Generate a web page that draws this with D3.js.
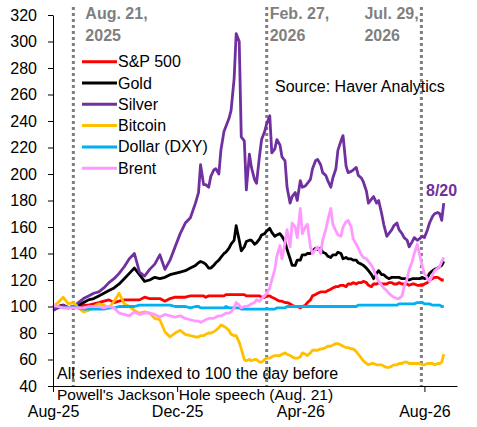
<!DOCTYPE html>
<html>
<head>
<meta charset="utf-8">
<script src="https://cdn.jsdelivr.net/npm/d3@7"></script>
<style>
  body { margin: 0; background: #fff; }
  svg text { font-family: "Liberation Sans", Arial, sans-serif; }
</style>
</head>
<body>
<div class="chart"></div>
<script>
// sample dates: ~5 days apart until mid-Dec, then ~2-3 days apart, last point 8/20
const dates = [
  "2025-08-01","2025-08-06","2025-08-11","2025-08-16","2025-08-21","2025-08-26","2025-08-31",
  "2025-09-05","2025-09-10","2025-09-15","2025-09-20","2025-09-25","2025-09-30","2025-10-05",
  "2025-10-10","2025-10-15","2025-10-20","2025-10-25","2025-10-30","2025-11-04","2025-11-09",
  "2025-11-14","2025-11-19","2025-11-24","2025-11-29","2025-12-04","2025-12-09","2025-12-14",
  "2025-12-19","2025-12-22","2025-12-24","2025-12-27","2025-12-29","2026-01-01","2026-01-03",
  "2026-01-06","2026-01-08","2026-01-11","2026-01-13","2026-01-16","2026-01-18","2026-01-21",
  "2026-01-23","2026-01-26","2026-01-28","2026-01-31","2026-02-02","2026-02-05","2026-02-07",
  "2026-02-10","2026-02-12","2026-02-15","2026-02-17","2026-02-20","2026-02-22","2026-02-25",
  "2026-02-27","2026-03-02","2026-03-04","2026-03-07","2026-03-09","2026-03-12","2026-03-14",
  "2026-03-17","2026-03-19","2026-03-22","2026-03-24","2026-03-27","2026-03-29","2026-04-01",
  "2026-04-03","2026-04-06","2026-04-08","2026-04-11","2026-04-13","2026-04-16","2026-04-18",
  "2026-04-21","2026-04-23","2026-04-26","2026-04-28","2026-05-01","2026-05-03","2026-05-06",
  "2026-05-08","2026-05-11","2026-05-13","2026-05-16","2026-05-18","2026-05-21","2026-05-23",
  "2026-05-26","2026-05-28","2026-05-31","2026-06-02","2026-06-05","2026-06-07","2026-06-10",
  "2026-06-12","2026-06-15","2026-06-17","2026-06-20","2026-06-22","2026-06-25","2026-06-27",
  "2026-06-30","2026-07-02","2026-07-05","2026-07-07","2026-07-10","2026-07-12","2026-07-15",
  "2026-07-17","2026-07-20","2026-07-22","2026-07-25","2026-07-27","2026-07-30","2026-08-01",
  "2026-08-04","2026-08-06","2026-08-09","2026-08-11","2026-08-14","2026-08-16","2026-08-18",
  "2026-08-20"
];

const sp500 = [
  100,100,101,99,100,99,101,101,102,103,104,105,103,104,105,105,105,105,107,106,106,106,104,106,107,107,107,108,
  108,108, 108,108, 107,108, 108,108, 108,108, 108,108, 109,109, 109,109, 109,109, 109,109, 108,108,
  108,108, 108,108, 107,107, 108,108, 107,106, 105,104, 104,103, 103,102, 101,100, 100,99,
  100,101, 103,105, 108,109, 110,111, 111,111, 112,113, 114,115, 115,116, 116,115, 117,117,
  118,117, 118,118, 119,118, 116,115, 117,117, 118,117, 117,117, 118,118, 117,117, 118,117,
  117,117, 116,117, 117,116, 116,116, 117,118, 120,121, 122,122, 121,120,
  120
];
const gold = [
  101,100,101,99,100,101,103,105,106,108,110,112,114,117,121,125,129,124,119,120,122,121,122,124,125,126,127,129,
  131,133, 134,133, 132,129, 129,131, 133,135, 137,140, 141,144, 147,150, 161,150, 142,145,
  149,150, 150,147, 148,151, 154,155, 157,159, 156,153, 154,155, 153,149, 143,136, 131,131,
  135,135, 139,139, 140,140, 142,144, 143,144, 141,140, 138,137, 139,139, 141,140, 136,137,
  136,136, 135,135, 133,132, 131,129, 127,124, 121,125, 127,124, 124,122, 121,122, 122,122,
  122,121, 121,121, 120,121, 121,121, 121,122, 121,122, 125,127, 128,129, 130,131,
  134
];
const silver = [
  97,99,101,99,100,103,106,108,110,111,114,118,121,125,130,136,140,126,123,128,132,139,128,135,145,155,163,167,
  178,186, 207,192, 192,190, 198,203, 204,200, 218,232, 236,242, 248,272, 306,300, 228,225,
  188,215, 205,196, 193,214, 226,232, 238,244, 216,219, 226,222, 213,210, 190,178, 183,186,
  180,195, 190,191, 193,196, 204,210, 211,207, 201,199, 195,190, 197,204, 218,225, 229,206,
  201,202, 203,205, 199,197, 194,187, 178,181, 183,178, 180,170, 162,153, 155,158, 161,163,
  158,155, 152,150, 145,149, 152,150, 151,153, 152,158, 163,168, 170,171, 170,165,
  178
];
const bitcoin = [
  100,103,107,102,103,99,96,97,100,102,101,99,104,110,102,100,97,95,96,95,91,90,81,77,80,82,79,78,
  77,77, 78,78, 79,80, 80,81, 82,84, 86,85, 84,82, 79,78, 78,73, 68,60,
  59,60, 59,60, 60,58, 58,60, 61,61, 62,63, 63,63, 64,65, 64,63, 62,61,
  61,62, 65,64, 63,65, 67,67, 67,68, 68,69, 70,70, 71,72, 72,71, 70,69,
  69,68, 68,66, 64,61, 59,57, 56,57, 57,56, 56,56, 55,54, 54,55, 56,56,
  57,57, 58,58, 57,57, 57,57, 57,56, 56,57, 57,57, 56,57, 57,58,
  64
];
const dollar = [
  100,100,99,99,100,99,98,98,98,98,98,99,99,100,100,100,100,101,101,101,101,101,101,101,100,100,100,99,
  100,100, 99,99, 99,99, 99,99, 99,99, 99,99, 100,99, 99,99, 99,99, 98,98,
  98,98, 98,98, 98,98, 98,98, 98,98, 98,98, 99,99, 99,99, 100,100, 100,100,
  100,100, 100,100, 100,100, 100,100, 100,100, 100,100, 100,100, 100,100, 100,100, 100,100,
  100,100, 100,100, 101,101, 101,101, 101,101, 101,101, 101,101, 101,101, 101,101, 101,101,
  102,102, 102,102, 102,102, 102,103, 103,103, 102,102, 102,101, 101,101, 101,100,
  100
];
const brent = [
  101,100,99,99,99,99,99,100,100,100,99,100,99,95,94,93,96,94,95,95,94,92,94,93,92,93,91,90,
  89,89, 88,89, 90,91, 91,91, 92,93, 93,94, 95,95, 96,99, 103,101, 99,100,
  100,101, 102,103, 105,104, 106,108, 110,114, 120,128, 138,146, 136,148, 158,145, 163,160,
  152,174, 155,160, 162,145, 140,143, 145,140, 150,158, 165,174, 162,157, 154,153, 160,164,
  165,160, 151,147, 144,139, 137,136, 134,131, 128,122, 119,116, 114,112, 110,108, 107,106,
  106,108, 115,121, 128,134, 140,147, 140,130, 125,121, 119,124, 127,129, 130,134,
  137
];

const seriesNames = ["S&P 500", "Gold", "Silver", "Bitcoin", "Dollar (DXY)", "Brent"];
const seriesColours = ["#ff0000", "#000000", "#7030a0", "#ffc000", "#00b0f0", "#ff99ff"];
const yTicks = [40, 60, 80, 100, 120, 140, 160, 180, 200, 220, 240, 260, 280, 300, 320];
const xTicks = ["2025-08-01", "2025-12-01", "2026-04-01", "2026-08-01"];
const eventDates = ["2025-08-21", "2026-02-27", "2026-07-29"];
const eventLabels = [["Aug. 21,", "2025"], ["Feb. 27,", "2026"], ["Jul. 29,", "2026"]];

const W = 477, H = 427;
const parse = d3.timeParse("%Y-%m-%d");
const dateArr = dates.map(parse);
const allSeries = [sp500, gold, silver, bitcoin, dollar, brent];

const svg = d3.select(".chart").append("svg")
  .attr("width", W)
  .attr("height", H);

const xScale = d3.scaleTime()
  .domain([parse("2025-08-01"), parse("2026-09-02")])
  .range([53, 457]);

const yScale = d3.scaleLinear()
  .domain([40, 320])
  .range([386, 15]);

// event label offsets from their line (last one sits left of it)
const labelDx = [12, 3, -57];

// dotted event lines
eventDates.forEach((d, i) => {
  const x = xScale(parse(d));
  svg.append("line")
    .attr("x1", x).attr("x2", x)
    .attr("y1", 7).attr("y2", 386)
    .attr("stroke", "#7f7f7f")
    .attr("stroke-width", 3)
    .attr("stroke-dasharray", "3,3");
  eventLabels[i].forEach((t, j) => {
    svg.append("text")
      .attr("x", x + labelDx[i])
      .attr("y", 19 + j * 22)
      .attr("fill", "#7f7f7f")
      .style("font-weight", "bold")
      .style("font-size", "16px")
      .text(t);
  });
});

// lines
const line = d3.line()
  .x((d, i) => xScale(dateArr[i]))
  .y(d => yScale(d));

allSeries.forEach((s, k) => {
  svg.append("path")
    .datum(s)
    .attr("fill", "none")
    .attr("stroke", seriesColours[k])
    .attr("stroke-width", 2.8)
    .attr("stroke-linejoin", "round")
    .attr("d", line);
});

// Y-AXIS
const yAxis = svg.append("g")
  .attr("transform", "translate(53,0)")
  .call(d3.axisLeft(yScale).tickValues(yTicks).tickSize(5).tickSizeOuter(0).tickPadding(11));
yAxis.selectAll("text").style("font-size", "16px").attr("fill", "#000");
yAxis.selectAll("line, path").attr("stroke", "#000");

// X-AXIS
const xAxis = svg.append("g")
  .attr("transform", "translate(0,386)")
  .call(d3.axisBottom(xScale)
    .tickValues(xTicks.map(parse))
    .tickFormat(d3.timeFormat("%b-%y"))
    .tickSize(6).tickSizeOuter(0).tickPadding(14));
xAxis.selectAll("text").style("font-size", "16px").attr("fill", "#000");
xAxis.selectAll("line, path").attr("stroke", "#000");

// notes
svg.append("text")
  .attr("x", 57).attr("y", 400)
  .style("font-size", "15.5px")
  .text("Powell's Jackson Hole speech (Aug. 21)");

svg.append("text")
  .attr("x", 57).attr("y", 379)
  .style("font-size", "16px")
  .text("All series indexed to 100 the day before");

svg.append("text")
  .attr("x", 275).attr("y", 92)
  .style("font-size", "16px")
  .text("Source: Haver Analytics");

svg.append("text")
  .attr("x", 426).attr("y", 196)
  .attr("fill", "#7030a0")
  .style("font-weight", "bold")
  .style("font-size", "16px")
  .text("8/20");

// LEGEND
const legend = svg.append("g").attr("id", "legend");
seriesNames.forEach((name, i) => {
  const y = 61.7 + i * 21.3;
  legend.append("line")
    .attr("x1", 82).attr("x2", 117)
    .attr("y1", y).attr("y2", y)
    .attr("stroke", seriesColours[i])
    .attr("stroke-width", 3);
  legend.append("text")
    .attr("x", 118).attr("y", y + 5.5)
    .style("font-size", "16px")
    .text(name);
});
</script>
</body>
</html>
